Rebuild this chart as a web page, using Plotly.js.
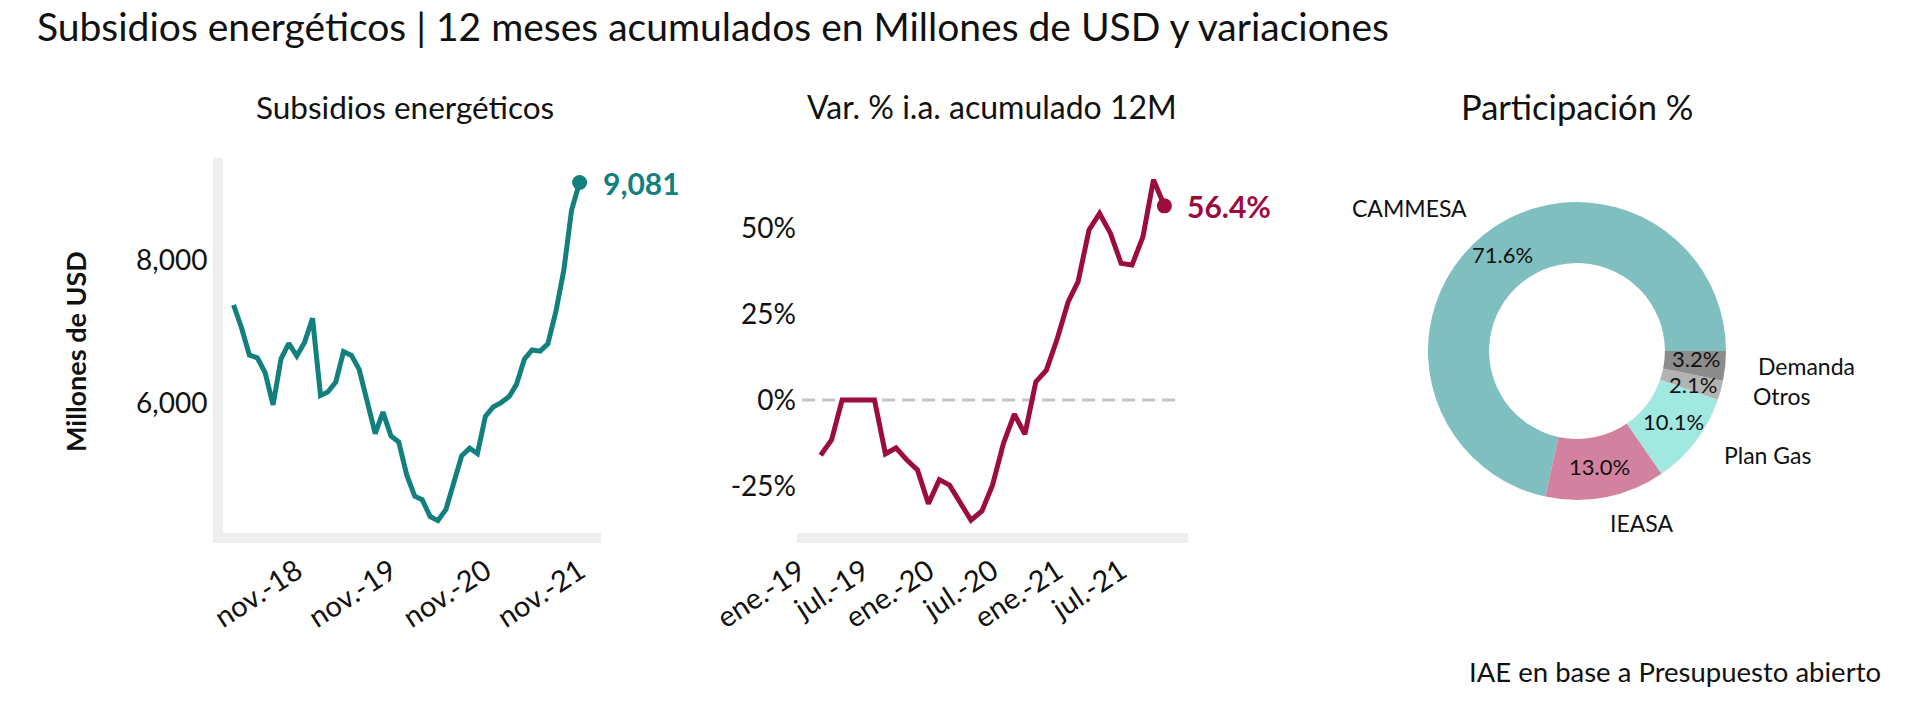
<!DOCTYPE html>
<html>
<head>
<meta charset="utf-8">
<script src="https://cdn.plot.ly/plotly-3.0.1.min.js"></script>
<style>html,body{margin:0;padding:0;background:#fff;}#chart{width:1920px;height:713px;}</style>
</head>
<body>
<div id="chart"></div>
<script>
// ---------- DATA ----------
const months1 = ['2018-03','2018-04','2018-05','2018-06','2018-07','2018-08','2018-09','2018-10','2018-11','2018-12',
  '2019-01','2019-02','2019-03','2019-04','2019-05','2019-06','2019-07','2019-08','2019-09','2019-10','2019-11','2019-12',
  '2020-01','2020-02','2020-03','2020-04','2020-05','2020-06','2020-07','2020-08','2020-09','2020-10','2020-11','2020-12',
  '2021-01','2021-02','2021-03','2021-04','2021-05','2021-06','2021-07','2021-08','2021-09','2021-10','2021-11'];
const subsidios = [7372,7050,6674,6635,6430,5977,6620,6837,6660,6850,7186,6110,6158,6295,6721,6668,6470,6047,5577,5877,5544,5460,
  5000,4703,4655,4419,4363,4518,4907,5268,5372,5298,5818,5948,6010,6093,6260,6616,6744,6728,6830,7279,7860,8698,9081];

const months2 = ['2019-03','2019-04','2019-05','2019-06','2019-07','2019-08','2019-09','2019-10','2019-11','2019-12',
  '2020-01','2020-02','2020-03','2020-04','2020-05','2020-06','2020-07','2020-08','2020-09','2020-10','2020-11','2020-12',
  '2021-01','2021-02','2021-03','2021-04','2021-05','2021-06','2021-07','2021-08','2021-09','2021-10','2021-11'];
const variacion = [-16.0,-11.6,0,0,0,0,-15.6,-13.9,-17.4,-20.3,-30.1,-23.1,-24.7,-29.8,-34.9,-32.2,-24.7,-12.6,-4.1,-9.9,5.3,8.7,
  17.9,28.6,34.4,49.4,54.2,48.4,39.7,39.2,47.4,64.0,56.4];

const xTicks1 = ['2018-11-01','2019-11-01','2020-11-01','2021-11-01'];
const xTickText1 = ['nov.-18','nov.-19','nov.-20','nov.-21'];
const yTicks1 = [6000, 8000];

const xTicks2 = ['2019-01-01','2019-07-01','2020-01-01','2020-07-01','2021-01-01','2021-07-01'];
const xTickText2 = ['ene.-19','jul.-19','ene.-20','jul.-20','ene.-21','jul.-21'];
const yTicks2 = [-25, 0, 25, 50];
const yTickText2 = ['-25%','0%','25%','50%'];

const pieLabels = ['CAMMESA','IEASA','Plan Gas','Otros','Demanda'];
const pieValues = [71.6, 13.0, 10.1, 2.1, 3.2];
const pieColors = ['#80bfbf','#d2829f','#a0e8e0','#b3b3b3','#8c8c8c'];

// ---------- HELPERS (pixel -> paper) ----------
const W = 1920, H = 713;
const fx = p => p / W;
const fy = p => 1 - p / H;

const TEAL = '#12807f';
const CRIMSON = '#9c0c3f';
const AXIS_GRAY = '#eeeeee';
const FONT = 'Lato, "Open Sans", sans-serif';
const TXT = '#111111';

const last1 = subsidios.length - 1;
const last2 = variacion.length - 1;

// first slice (CAMMESA) ends at 3 o'clock, running counterclockwise over the top
const pieTotal = pieValues.reduce((a, b) => a + b, 0);
const pieRotation = 90 + 360 - 360 * pieValues[0] / pieTotal;

const traces = [
  { type: 'scatter', mode: 'lines', x: months1, y: subsidios, xaxis: 'x', yaxis: 'y',
    line: { color: TEAL, width: 5 } },
  { type: 'scatter', mode: 'markers', x: [months1[last1]], y: [subsidios[last1]], xaxis: 'x', yaxis: 'y',
    marker: { color: TEAL, size: 15 } },
  { type: 'scatter', mode: 'lines', x: months2, y: variacion, xaxis: 'x2', yaxis: 'y2',
    line: { color: CRIMSON, width: 5 } },
  { type: 'scatter', mode: 'markers', x: [months2[last2]], y: [variacion[last2]], xaxis: 'x2', yaxis: 'y2',
    marker: { color: CRIMSON, size: 15 } },
  { type: 'pie', labels: pieLabels, values: pieValues, hole: 0.59, sort: false,
    direction: 'counterclockwise', rotation: pieRotation, textinfo: 'none',
    marker: { colors: pieColors, line: { width: 0 } },
    domain: { x: [fx(1428), fx(1726)], y: [fy(500), fy(202)] } }
];

const tickFont = { family: FONT, size: 28, color: TXT };
const xTickFont = { family: FONT, size: 29, color: TXT };

const layout = {
  width: W, height: H,
  margin: { l: 0, r: 0, t: 0, b: 0, pad: 0 },
  paper_bgcolor: '#ffffff', plot_bgcolor: '#ffffff',
  showlegend: false,
  font: { family: FONT, color: TXT },
  title: { text: 'Subsidios energéticos | 12 meses acumulados en Millones de USD y variaciones',
    x: fx(37), xanchor: 'left', xref: 'paper', y: fy(27), yanchor: 'middle', yref: 'paper',
    font: { family: FONT, size: 39, color: TXT } },
  xaxis: { domain: [fx(223), fx(601)], anchor: 'y', type: 'date', range: ['2018-01-19', '2022-01-23'],
    tickmode: 'array', tickvals: xTicks1, ticktext: xTickText1, tickangle: -33, tickfont: xTickFont,
    showline: true, linecolor: AXIS_GRAY, linewidth: 10, showgrid: false, zeroline: false, ticks: '' },
  yaxis: { domain: [fy(533), fy(158)], anchor: 'x', range: [4190, 9423],
    tickmode: 'array', tickvals: yTicks1, tickformat: ',d', tickfont: tickFont,
    showline: true, linecolor: AXIS_GRAY, linewidth: 10, showgrid: false, zeroline: false, ticks: '' },
  xaxis2: { domain: [fx(797), fx(1188)], anchor: 'y2', type: 'date', range: ['2018-12-24', '2022-01-07'],
    tickmode: 'array', tickvals: xTicks2, ticktext: xTickText2, tickangle: -33, tickfont: xTickFont,
    showline: true, linecolor: AXIS_GRAY, linewidth: 10, showgrid: false, zeroline: false, ticks: '' },
  yaxis2: { domain: [fy(533), fy(158)], anchor: 'x2', range: [-38.6, 70.3],
    tickmode: 'array', tickvals: yTicks2, ticktext: yTickText2, tickfont: tickFont,
    showline: false, showgrid: false, zeroline: false, ticks: '' },
  shapes: [
    { type: 'line', xref: 'x2 domain', x0: 0.013, x1: 0.974, yref: 'y2', y0: 0, y1: 0,
      line: { color: '#c4c4c4', width: 3, dash: '13px,7px' }, layer: 'below' }
  ],
  annotations: []
};

const A = layout.annotations;
// end-of-series labels
A.push({ xref: 'x', yref: 'y', x: months1[last1], y: subsidios[last1], xanchor: 'left', yanchor: 'middle',
  xshift: 21, showarrow: false, text: '<b>' + subsidios[last1].toLocaleString('en-US') + '</b>',
  font: { family: FONT, size: 30, color: TEAL } });
A.push({ xref: 'x2', yref: 'y2', x: months2[last2], y: variacion[last2], xanchor: 'left', yanchor: 'middle',
  xshift: 21, showarrow: false, text: '<b>' + variacion[last2].toFixed(1) + '%</b>',
  font: { family: FONT, size: 30, color: CRIMSON } });
// panel titles
A.push({ xref: 'paper', yref: 'paper', x: fx(405), y: fy(107), xanchor: 'center', yanchor: 'middle', showarrow: false,
  text: 'Subsidios energéticos', font: { family: FONT, size: 31.5, color: TXT } });
A.push({ xref: 'paper', yref: 'paper', x: fx(992), y: fy(107), xanchor: 'center', yanchor: 'middle', showarrow: false,
  text: 'Var. % i.a. acumulado 12M', font: { family: FONT, size: 32, color: TXT } });
A.push({ xref: 'paper', yref: 'paper', x: fx(1577), y: fy(106), xanchor: 'center', yanchor: 'middle', showarrow: false,
  text: 'Participación %', font: { family: FONT, size: 34.5, color: TXT } });
// y axis title
A.push({ xref: 'paper', yref: 'paper', x: fx(75), y: fy(352), xanchor: 'center', yanchor: 'middle', showarrow: false,
  textangle: -90, text: '<b>Millones de USD</b>', font: { family: FONT, size: 27, color: TXT } });
// donut labels (outside) and percentages (inside)
const labelPos = [[1409, 208], [1641, 523], [1767, 455], [1782, 396], [1806, 366]];
const pctPos = [[1502, 255], [1599, 467], [1673, 421], [1693, 384], [1696, 358]];
pieLabels.forEach((lab, i) => {
  A.push({ xref: 'paper', yref: 'paper', x: fx(labelPos[i][0]), y: fy(labelPos[i][1]), xanchor: 'center', yanchor: 'middle',
    showarrow: false, text: lab, font: { family: FONT, size: 23, color: TXT } });
  A.push({ xref: 'paper', yref: 'paper', x: fx(pctPos[i][0]), y: fy(pctPos[i][1]), xanchor: 'center', yanchor: 'middle',
    showarrow: false, text: pieValues[i].toFixed(1) + '%', font: { family: FONT, size: 22, color: TXT } });
});
// source
A.push({ xref: 'paper', yref: 'paper', x: fx(1675), y: fy(671), xanchor: 'center', yanchor: 'middle', showarrow: false,
  text: 'IAE en base a Presupuesto abierto', font: { family: FONT, size: 27.5, color: TXT } });

Plotly.newPlot('chart', traces, layout, { displayModeBar: false, staticPlot: true });
</script>
</body>
</html>
